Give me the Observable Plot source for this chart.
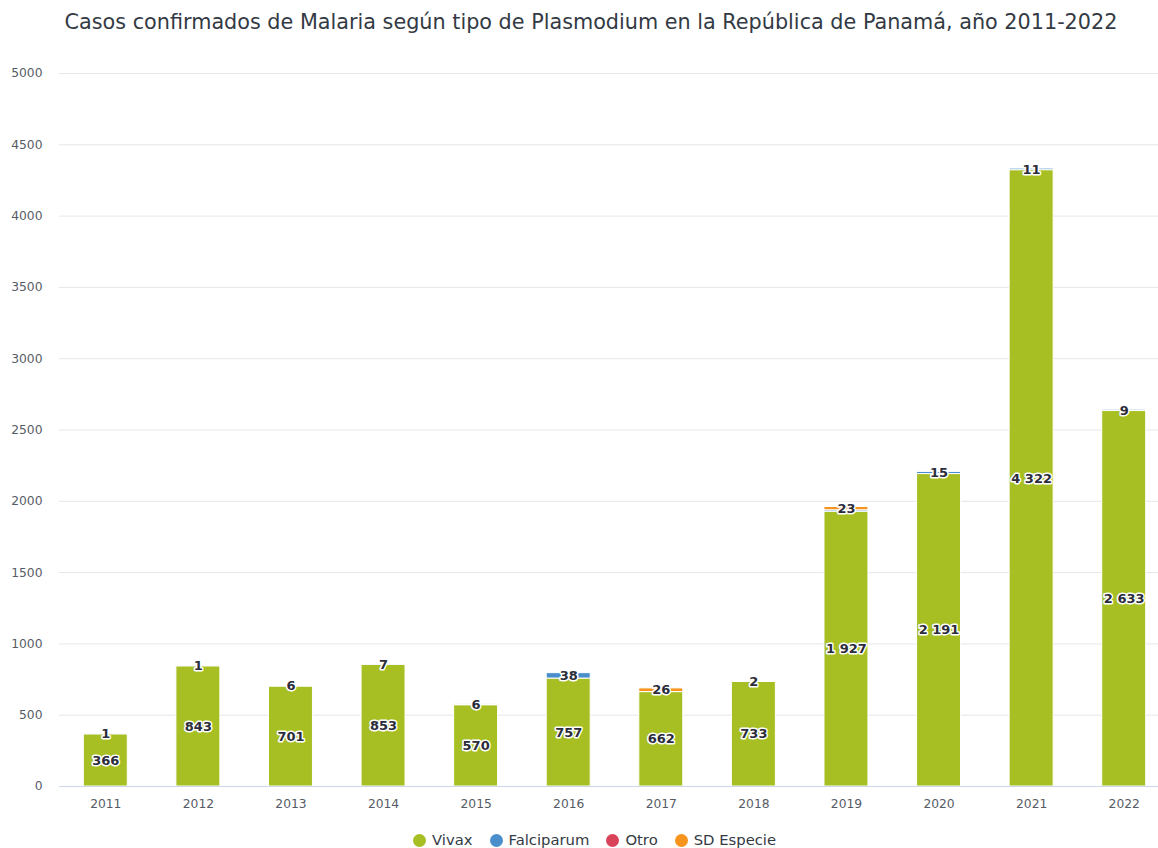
<!DOCTYPE html>
<html>
<head>
<meta charset="utf-8">
<script src="https://cdn.jsdelivr.net/npm/d3@7"></script>
<script src="https://cdn.jsdelivr.net/npm/@observablehq/plot@0.6"></script>
<style>
  body { margin: 0; background: #fff; font-family: "DejaVu Sans", sans-serif; width: 1158px; height: 848px; overflow: hidden; }
  #title { height: 42px; padding-top: 8px; line-height: 28px; font-size: 20.75px; color: #333a44; text-align: center; padding-left: 24px; box-sizing: content-box; white-space: nowrap; }
  #legend { height: 16px; padding-top: 12px; display: flex; align-items: center; padding-left: 413px; font-size: 14.8px; color: #333a44; }
  .item { display: flex; align-items: center; margin-right: 17px; line-height: 16px; }
  .dot { width: 13px; height: 13px; border-radius: 50%; margin-right: 6px; }
</style>
</head>
<body>
<div id="title">Casos confirmados de Malaria según tipo de Plasmodium en la República de Panamá, año 2011-2022</div>
<div id="chart"></div>
<div id="legend"></div>
<script>
const years = ["2011","2012","2013","2014","2015","2016","2017","2018","2019","2020","2021","2022"];
const vivax = [366, 843, 701, 853, 570, 757, 662, 733, 1927, 2191, 4322, 2633];
const falciparum = [1, 1, 6, 7, 6, 38, 0, 2, 10, 15, 11, 9];
const otro = [0, 0, 0, 0, 0, 0, 0, 0, 0, 0, 0, 0];
const sdEspecie = [0, 0, 0, 0, 0, 0, 26, 0, 23, 0, 0, 0];
const seriesNames = ["Vivax", "Falciparum", "Otro", "SD Especie"];
const seriesColors = ["#a8bf24", "#4a8fcb", "#d9435a", "#f7941d"];
const yTicks = [0, 500, 1000, 1500, 2000, 2500, 3000, 3500, 4000, 4500, 5000];

const locale = d3.formatLocale({decimal: ",", thousands: " ", grouping: [3], currency: ["", ""]});
const fmt = locale.format(",d");

const seriesValues = [vivax, falciparum, otro, sdEspecie];
const rows = [];
years.forEach((year, i) => {
  const others = seriesValues.slice(1).map(v => v[i]);
  const maxOther = Math.max(...others);
  seriesNames.forEach((s, k) => {
    const value = seriesValues[k][i];
    let label = "";
    if (k === 0) label = fmt(value);
    else if (value > 0 && value === maxOther && others.indexOf(maxOther) === k - 1) label = fmt(value);
    rows.push({year, series: s, value, label});
  });
});

const chart = Plot.plot({
  width: 1158,
  height: 770,
  marginLeft: 59,
  marginRight: 0,
  marginTop: 23,
  marginBottom: 34,
  style: {fontFamily: "DejaVu Sans", fontSize: "12.3px", color: "#555b66", background: "white", overflow: "visible"},
  x: {domain: years, range: [59, 1170], paddingInner: 0.525, paddingOuter: 0.2625, round: false, label: null},
  y: {domain: [0, 5000], label: null},
  color: {domain: seriesNames, range: seriesColors},
  marks: [
    Plot.gridY(yTicks, {stroke: "#e6e6e6", strokeOpacity: 1}),
    Plot.barY(rows, {x: "year", y: "value", fill: "series", order: seriesNames, stroke: "white", strokeWidth: 1}),
    Plot.ruleY([0], {stroke: "#ccd6eb", strokeWidth: 1}),
    Plot.text(rows, Plot.stackY({x: "year", y: "value", z: "series", order: seriesNames, text: "label",
      fontWeight: "bold", fontSize: 13, fill: "#2b2d3b", stroke: "white", strokeWidth: 3, paintOrder: "stroke"})),
    Plot.axisX({tickSize: 0, tickPadding: 12.5, label: null, fill: "#555b66"}),
    Plot.axisY(yTicks, {tickSize: 0, tickPadding: 17, label: null, tickFormat: d => String(d), fill: "#555b66"})
  ]
});
document.getElementById("chart").appendChild(chart);

const legend = document.getElementById("legend");
seriesNames.forEach((s, k) => {
  const item = document.createElement("div");
  item.className = "item";
  const dot = document.createElement("span");
  dot.className = "dot";
  dot.style.background = seriesColors[k];
  const t = document.createElement("span");
  t.textContent = s;
  item.appendChild(dot);
  item.appendChild(t);
  legend.appendChild(item);
});
</script>
</body>
</html>
